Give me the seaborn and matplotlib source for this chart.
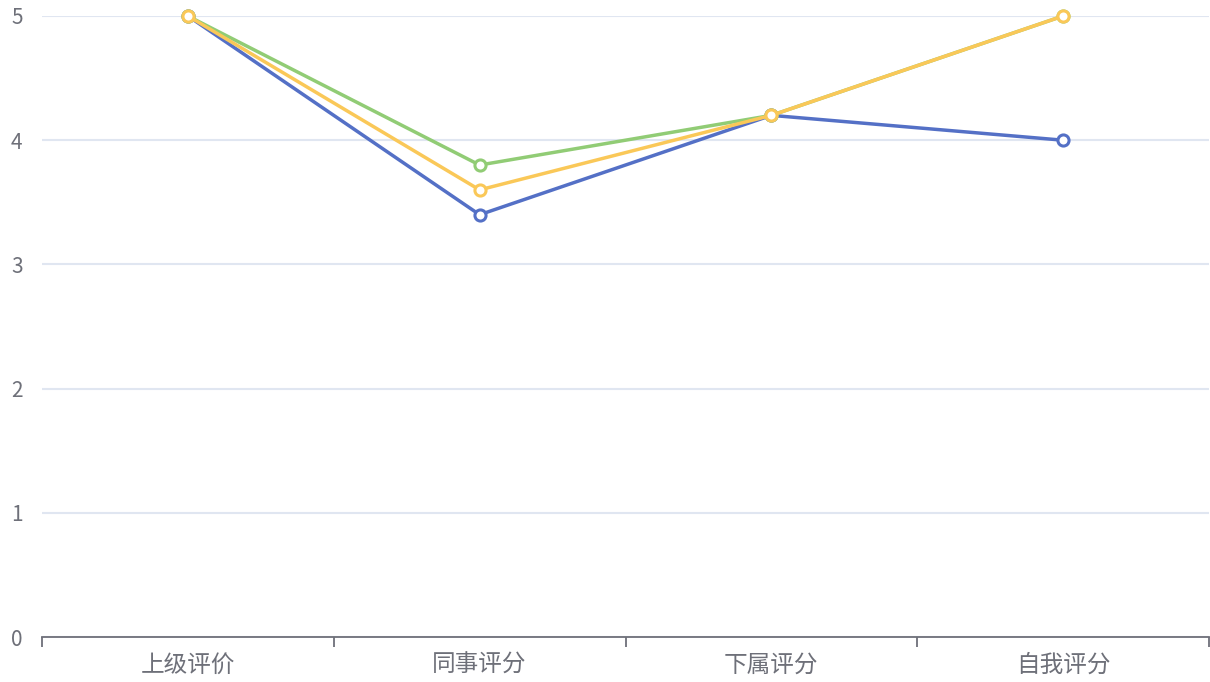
import matplotlib
matplotlib.use("Agg")
import matplotlib.pyplot as plt
import pandas as pd
import seaborn as sns

# Data
categories = ["上级评价", "同事评分", "下属评分", "自我评分"]
series_a = [5, 3.4, 4.2, 4.0]
series_b = [5, 3.8, 4.2, 5]
series_c = [5, 3.6, 4.2, 5]
series_names = ["系列1", "系列2", "系列3"]
colors = ["#5470c6", "#91cc75", "#fac858"]
y_ticks = [0, 1, 2, 3, 4, 5]

rows = []
for name, vals in zip(series_names, [series_a, series_b, series_c]):
    for cat, v in zip(categories, vals):
        rows.append({"category": cat, "score": v, "series": name})
df = pd.DataFrame(rows)

sns.set_style("white")
plt.rcParams["font.family"] = ["Noto Sans CJK SC", "DejaVu Sans"]

fig = plt.figure(figsize=(12.1, 6.82), dpi=100)
ax = fig.add_axes([42 / 1210, 45 / 682, 1167 / 1210, 621 / 682])

sns.lineplot(data=df, x="category", y="score", hue="series", palette=colors,
             sort=False, linewidth=2.5, marker="o", markersize=8,
             markerfacecolor="white", markeredgewidth=2.2, ax=ax,
             legend=False, zorder=3)
# marker edge colors follow line colors
for line, c in zip(ax.get_lines(), colors):
    line.set_markeredgecolor(c)
    line.set_clip_on(False)

ax.set_xlim(-0.5, len(categories) - 0.5)
ax.set_ylim(0, 5)
ax.set_yticks(y_ticks)
ax.set_xticks(range(len(categories)))
ax.set_xticklabels(categories)
ax.set_xticks([i - 0.5 for i in range(len(categories) + 1)], minor=True)
ax.set_xlabel("")
ax.set_ylabel("")

ax.grid(axis="y", color="#e0e6f1", linewidth=1.5, zorder=0)
ax.grid(axis="x", visible=False)
for side in ["top", "right", "left"]:
    ax.spines[side].set_visible(False)
ax.spines["bottom"].set_color("#6e7079")
ax.spines["bottom"].set_linewidth(1.3)

ax.tick_params(axis="x", which="major", bottom=False, length=0, pad=12,
               labelsize=17, labelcolor="#6e7079")
ax.tick_params(axis="x", which="minor", bottom=True, length=7, width=1.3,
               color="#6e7079", direction="out")
ax.tick_params(axis="y", length=0, pad=14, labelsize=15, labelcolor="#6e7079")

fig.savefig("out.png", dpi=100)
